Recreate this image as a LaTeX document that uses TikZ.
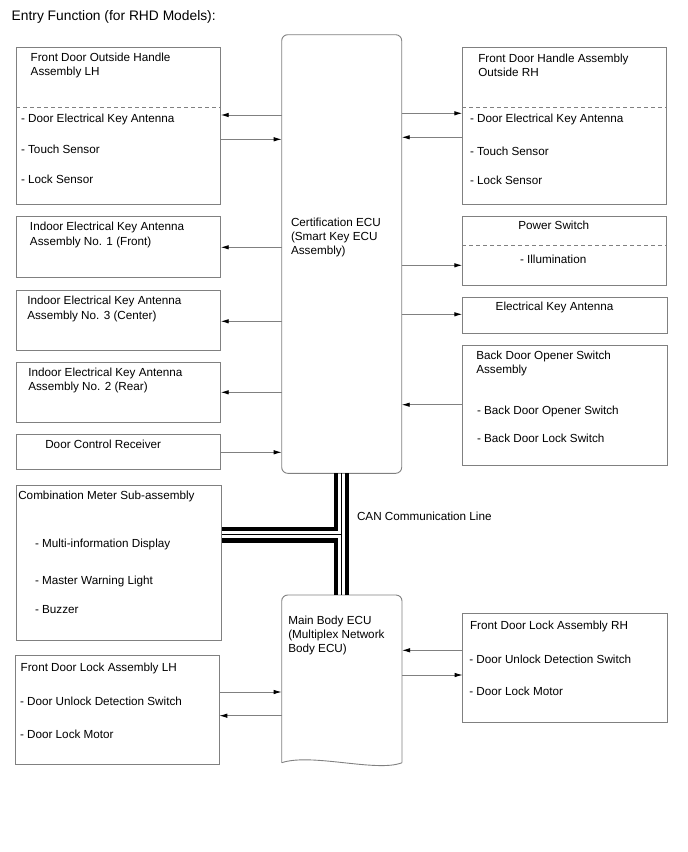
\documentclass[tikz,border=0pt]{standalone}
\usepackage{fontspec}
\setmainfont{Liberation Sans}
\usetikzlibrary{arrows.meta,calc}
\definecolor{ln}{HTML}{808080}
\begin{document}
\begin{tikzpicture}[x=1pt,y=-1pt,
  box/.style={draw=ln,line width=0.9pt,inner sep=0,outer sep=0,anchor=north west},
  lbl/.style={inner sep=0,outer sep=0,font=\fontsize{11.7}{14.2}\selectfont,align=left},
  tb/.style={lbl,anchor=base west},
  tn/.style={lbl,anchor=north west},
  arr/.style={draw=ln,line width=0.9pt,-{Latex[length=8pt,width=4.5pt,color=black]}},
  dsh/.style={draw=ln,line width=0.8pt,dash pattern=on 4pt off 3pt},
  canthick/.style={line width=4.3pt,black,line join=miter},
  canthin/.style={line width=1.3pt,black}]
\useasboundingbox (0,0) rectangle (688,852);

% title
\node[tb,font=\fontsize{13.8}{16}\selectfont] (title) at (11.7,20.6) {Entry Function (for RHD Models):};

% boxes
\node[box,minimum width=204.7pt,minimum height=156.7pt] (fdoh) at (16,47.3) {};
\node[box,minimum width=204pt,minimum height=157pt] (fdha) at (462.3,47.3) {};
\node[box,minimum width=204.7pt,minimum height=61pt] (ind1) at (16,216.3) {};
\node[box,minimum width=204.7pt,minimum height=60pt] (ind3) at (16,290) {};
\node[box,minimum width=204.7pt,minimum height=60.4pt] (ind2) at (16,362.3) {};
\node[box,minimum width=204.7pt,minimum height=35pt] (dcr) at (16,434.3) {};
\node[box,minimum width=204pt,minimum height=69.4pt] (pwr) at (462.3,216.3) {};
\node[box,minimum width=205pt,minimum height=35.7pt] (eka) at (462.3,297.3) {};
\node[box,minimum width=205pt,minimum height=119.7pt] (bdo) at (462.3,345.3) {};
\node[box,minimum width=205.7pt,minimum height=154.3pt] (combo) at (16,485.7) {};
\node[box,minimum width=204.3pt,minimum height=108.6pt] (fdll) at (15,655.7) {};
\node[box,minimum width=205pt,minimum height=109.4pt] (fdlr) at (462.7,613.3) {};
\node[box,rounded corners=6pt,minimum width=120pt,minimum height=438.6pt] (cert) at (281.7,34.7) {};

% main body ECU (document shape)
\node[inner sep=0,outer sep=0,anchor=north west,minimum width=120.3pt,minimum height=167.7pt] (mb) at (281.7,595) {};
\draw[ln,line width=0.9pt,rounded corners=6pt] (mb.south west) -- (mb.north west) -- (mb.north east) -- (mb.south east);
\draw[ln,line width=0.9pt] (mb.south east) .. controls ($(mb.south east)+(-25,10)$) and ($(mb.south west)+(30,-10)$) .. (mb.south west);

% dashed separators
\draw[dsh] (fdoh.west |- 0,107.3) -- (fdoh.east |- 0,107.3);
\draw[dsh] (fdha.west |- 0,107.3) -- (fdha.east |- 0,107.3);
\draw[dsh] (pwr.west |- 0,245) -- (pwr.east |- 0,245);

% texts
\node[tn] (t1) at (30.7,53.0) {Front Door Outside Handle\\Assembly LH};
\node[tb] (t1a) at (21,122.5) {- Door Electrical Key Antenna};
\node[tb] (t1b) at (21,153.2) {- Touch Sensor};
\node[tb] (t1c) at (21,183.2) {- Lock Sensor};

\node[tn] (t2) at (478.3,54.0) {Front Door Handle Assembly\\Outside RH};
\node[tb] (t2a) at (470,122.9) {- Door Electrical Key Antenna};
\node[tb] (t2b) at (470,155.2) {- Touch Sensor};
\node[tb] (t2c) at (470,184.2) {- Lock Sensor};

\node[tn] (t3) at (30,222.4) {Indoor Electrical Key Antenna\\Assembly No. 1 (Front)};
\node[tn] (t4) at (27.3,296.4) {Indoor Electrical Key Antenna\\Assembly No. 3 (Center)};
\node[tn] (t5) at (28.3,368) {Indoor Electrical Key Antenna\\Assembly No. 2 (Rear)};
\node[tb] (t6) at (45.3,448.5) {Door Control Receiver};

\node[tb] (t7) at (518.3,229.2) {Power Switch};
\node[tb] (t7a) at (520,263.2) {- Illumination};
\node[tb] (t8) at (495.7,310.2) {Electrical Key Antenna};
\node[tn] (t9) at (476.3,350.7) {Back Door Opener Switch\\Assembly};
\node[tb] (t9a) at (477,414.2) {- Back Door Opener Switch};
\node[tb] (t9b) at (477,442.9) {- Back Door Lock Switch};

\node[tn] (tc) at (291,217.7) {Certification ECU\\(Smart Key ECU\\Assembly)};

\node[tb] (t10) at (18.3,499.9) {Combination Meter Sub-assembly};
\node[tb] (t10a) at (35,547.5) {- Multi-information Display};
\node[tb] (t10b) at (35,584.2) {- Master Warning Light};
\node[tb] (t10c) at (35,613.2) {- Buzzer};

\node[tb] (tcan) at (357,520.2) {CAN Communication Line};

\node[tn] (tm) at (288.3,615.7) {Main Body ECU\\(Multiplex Network\\Body ECU)};

\node[tb] (t11) at (20.7,671.5) {Front Door Lock Assembly LH};
\node[tb] (t11a) at (20,705.2) {- Door Unlock Detection Switch};
\node[tb] (t11b) at (20,738.2) {- Door Lock Motor};

\node[tb] (t12) at (470,629.2) {Front Door Lock Assembly RH};
\node[tb] (t12a) at (469.3,663.2) {- Door Unlock Detection Switch};
\node[tb] (t12b) at (469.3,695.9) {- Door Lock Motor};

% arrows
\draw[arr] (cert.west |- 0,115) -- (fdoh.east |- 0,115);
\draw[arr] (fdoh.east |- 0,139.3) -- (cert.west |- 0,139.3);
\draw[arr] (cert.east |- 0,113.3) -- (fdha.west |- 0,113.3);
\draw[arr] (fdha.west |- 0,137.3) -- (cert.east |- 0,137.3);
\draw[arr] (cert.west |- 0,247.3) -- (ind1.east |- 0,247.3);
\draw[arr] (cert.west |- 0,321.3) -- (ind3.east |- 0,321.3);
\draw[arr] (cert.west |- 0,392.3) -- (ind2.east |- 0,392.3);
\draw[arr] (dcr.east |- 0,452.3) -- (cert.west |- 0,452.3);
\draw[arr] (cert.east |- 0,265.3) -- (pwr.west |- 0,265.3);
\draw[arr] (cert.east |- 0,314.3) -- (eka.west |- 0,314.3);
\draw[arr] (bdo.west |- 0,404.7) -- (cert.east |- 0,404.7);
\draw[arr] (fdll.east |- 0,692) -- (mb.west |- 0,692);
\draw[arr] (mb.west |- 0,715.7) -- (fdll.east |- 0,715.7);
\draw[arr] (fdlr.west |- 0,650.3) -- (mb.east |- 0,650.3);
\draw[arr] (mb.east |- 0,675) -- (fdlr.west |- 0,675);

% CAN communication line
\coordinate (ct) at (336.3,529);
\coordinate (cm) at (341.3,534.5);
\coordinate (cb) at (336.3,540.5);
\coordinate (cr) at (347.3,500);
\draw[canthick] (cert.south -| ct) -- (ct) -- (combo.east |- ct);
\draw[canthick] (mb.north -| cb) -- (cb) -- (combo.east |- cb);
\draw[canthin] (cert.south -| cm) -- (mb.north -| cm);
\draw[canthin] (cm) -- (combo.east |- cm);
\draw[canthick] (cert.south -| cr) -- (mb.north -| cr);
\end{tikzpicture}
\end{document}
